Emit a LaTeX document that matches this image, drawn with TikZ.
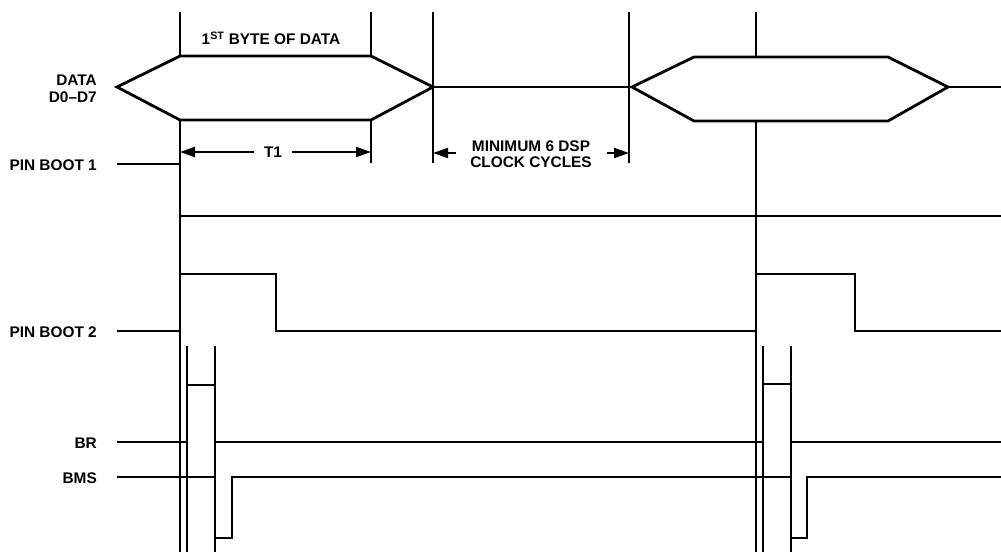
\documentclass[tikz,border=0pt]{standalone}
\usepackage{fontspec}
\setmainfont{Liberation Sans}
\usetikzlibrary{arrows.meta}
\begin{document}
\begin{tikzpicture}[x=1pt,y=-1pt,
  sig/.style={line width=2.8pt, line join=miter},
  thin/.style={line width=1.1pt},
  guide/.style={line width=1.1pt},
  lbl/.style={font=\fontsize{15.4}{17}\selectfont\bfseries, anchor=east, inner sep=0pt, align=right},
  txt/.style={font=\fontsize{15.4}{16.5}\selectfont\bfseries, inner sep=0pt, align=center},
  dim/.style={line width=2pt, -{Triangle[length=15pt,width=10pt]}}]
\useasboundingbox (0,0) rectangle (1001,552);
% guide lines
\draw[guide] (180,12) -- (180,552);
\draw[guide] (371,12) -- (371,163);
\draw[guide] (433,12) -- (433,163);
\draw[guide] (629,12) -- (629,163);
\draw[guide] (756,12) -- (756,552);
\draw[guide] (187,346) -- (187,552);
\draw[guide] (215,346) -- (215,552);
\draw[guide] (763,346) -- (763,552);
\draw[guide] (791,346) -- (791,552);
% labels
\node[lbl] (ldata) at (97,89) {DATA\\D0–D7};
\node[lbl] (lpb1) at (97,165) {PIN BOOT 1};
\node[lbl] (lpb2) at (97,332) {PIN BOOT 2};
\node[lbl] (lbr) at (97,443) {BR};
\node[lbl] (lbms) at (97,478) {BMS};
\node[txt] (byte) at (271,38) {1\textsuperscript{ST} BYTE OF DATA};
% DATA
\draw[sig, fill=white] (117,87) -- (180,56) -- (371,56) -- (433,87) -- (371,120) -- (180,120) -- cycle;
\draw[sig] (433,87) -- (632,87);
\draw[sig, fill=white] (632,87) -- (694,57) -- (888,57) -- (948,87) -- (888,121) -- (694,121) -- cycle;
\draw[sig] (948,87) -- (1001,87);
% PIN BOOT 1
\draw[sig] (117,164) -- (180,164) -- (180,216) -- (1001,216);
% PIN BOOT 2
\draw[sig] (117,331) -- (180,331) -- (180,274) -- (276,274) -- (276,331) -- (756,331) -- (756,274) -- (855,274) -- (855,331) -- (1001,331);
% BR
\draw[sig] (117,442) -- (187,442) -- (187,385) -- (215,385) -- (215,442) -- (763,442) -- (763,384) -- (791,384) -- (791,442) -- (1001,442);
% BMS
\draw[thin] (117,477) -- (215,477) -- (215,538) -- (232,538) -- (232,477) -- (791,477) -- (791,538) -- (807,538) -- (807,477) -- (1001,477);
% T1
\node[txt] (t1) at (273,152) {T1};
\coordinate (t1l) at (180,152);
\coordinate (t1r) at (371,152);
\draw[dim] (t1.west) ++(-10,0) -- (t1l);
\draw[dim] (t1.east) ++(10,0) -- (t1r);
% min 6 dsp
\node[txt] (min6) at (531,154) {MINIMUM 6 DSP\\CLOCK CYCLES};
\coordinate (m6l) at (433,153);
\coordinate (m6r) at (629,153);
\draw[dim] (456,153) -- (m6l);
\draw[dim] (607,153) -- (m6r);
\end{tikzpicture}
\end{document}
